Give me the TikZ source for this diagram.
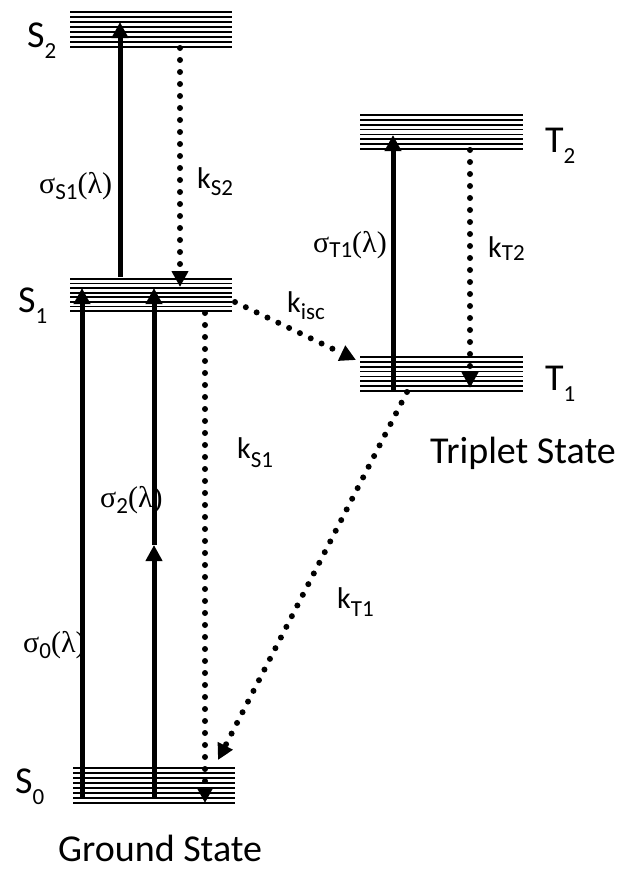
\documentclass[tikz,border=0pt]{standalone}
\usepackage{fontspec}
\setmainfont{Carlito}
\newfontfamily\greekfont{Liberation Serif}
\usetikzlibrary{arrows.meta}

% lowered subscript as in the figure
\newcommand{\lowsub}[2]{\raisebox{-#2}{\fontsize{23}{23}\selectfont #1}}
% stack of sub-levels: x from, x to, y top, y bottom
\newcommand{\levelstack}[4]{%
  \foreach \i in {0,...,7}
    \draw[levelline] (#1,{#3+(#4-#3)*\i/7}) -- (#2,{#3+(#4-#3)*\i/7});}

\tikzset{
  levelline/.style={line width=1.8pt},
  pump/.style={line width=5pt, -{Triangle[length=16pt,width=16pt]}},
  decay/.style={line width=6pt, line cap=round, dash pattern=on 0pt off 12pt,
    -{Triangle[length=16pt,width=16pt]}},
  rate/.style={anchor=base west, inner sep=0pt, font=\fontsize{30}{30}\selectfont},
  statename/.style={anchor=base west, inner sep=0pt, font=\fontsize{38}{38}\selectfont},
}

\begin{document}
\begin{tikzpicture}[x=1pt, y=-1pt]
    \useasboundingbox (0,0) rectangle (623,871);

    % energy levels
    \levelstack{70}{232}{12}{47}
    \levelstack{70}{232}{279}{311}
    \levelstack{73}{235}{768}{803}
    \levelstack{360}{523}{115}{149}
    \levelstack{360}{523}{357}{391}

    % end points of the transitions
    \coordinate (s1up) at (120,277);
    \coordinate (s2tip) at (120,22);
    \coordinate (s2down) at (180,48);
    \coordinate (s1tip) at (180,287);
    \coordinate (s0a) at (82,797);
    \coordinate (s1a) at (82,288);
    \coordinate (s0b) at (154,797);
    \coordinate (midb) at (154,545);
    \coordinate (s1b) at (154,288);
    \coordinate (s1down) at (205,313);
    \coordinate (s0tip) at (205,803);
    \coordinate (iscfrom) at (235,302);
    \coordinate (iscto) at (356,360);
    \coordinate (t1up) at (393,390);
    \coordinate (t2tip) at (393,135);
    \coordinate (t2down) at (470,150);
    \coordinate (t1tip) at (470,388);
    \coordinate (t1down) at (407,392);
    \coordinate (s0side) at (218,760);

    % absorption
    \draw[pump] (s1up) -- (s2tip);
    \draw[pump] (s0a) -- (s1a);
    \draw[pump] (s0b) -- (midb);
    \draw[pump] (midb) -- (s1b);
    \draw[pump] (t1up) -- (t2tip);

    % relaxation
    \draw[decay] (s2down) -- (s1tip);
    \draw[decay] (s1down) -- (s0tip);
    \draw[decay] (iscfrom) -- (iscto);
    \draw[decay] (t2down) -- (t1tip);
    \draw[decay] (t1down) -- (s0side);

    % level names
    \node[statename] (nS2) at (27,47) {S\lowsub{2}{11pt}};
    \node[statename] (nS1) at (18,312) {S\lowsub{1}{11pt}};
    \node[statename] (nS0) at (15,793) {S\lowsub{0}{11pt}};
    \node[statename] (nT2) at (545,152) {T\lowsub{2}{11pt}};
    \node[statename] (nT1) at (545,390) {T\lowsub{1}{11pt}};
    \node[statename] (triplet) at (430,463) {Triplet State};
    \node[statename] (ground) at (58,861) {Ground State};

    % rates and cross sections
    \node[rate] (sigS1) at (39,193) {{\greekfont σ}\lowsub{S1}{6pt}{\greekfont (λ)}};
    \node[rate] (kS2) at (197,188) {k\lowsub{S2}{7pt}};
    \node[rate] (kisc) at (287,312) {k\lowsub{isc}{7pt}};
    \node[rate] (kS1) at (237,458) {k\lowsub{S1}{9pt}};
    \node[rate] (kT1) at (337,608) {k\lowsub{T1}{8pt}};
    \node[rate] (sigT1) at (313,252) {{\greekfont σ}\lowsub{T1}{5pt}{\greekfont (λ)}};
    \node[rate] (kT2) at (488,257) {k\lowsub{T2}{3pt}};
    \node[rate] (sig2) at (100,507) {{\greekfont σ}\lowsub{2}{6pt}{\greekfont (λ)}};
    \node[rate] (sig0) at (23,652) {{\greekfont σ}\lowsub{0}{6pt}{\greekfont (λ)}};
\end{tikzpicture}
\end{document}
